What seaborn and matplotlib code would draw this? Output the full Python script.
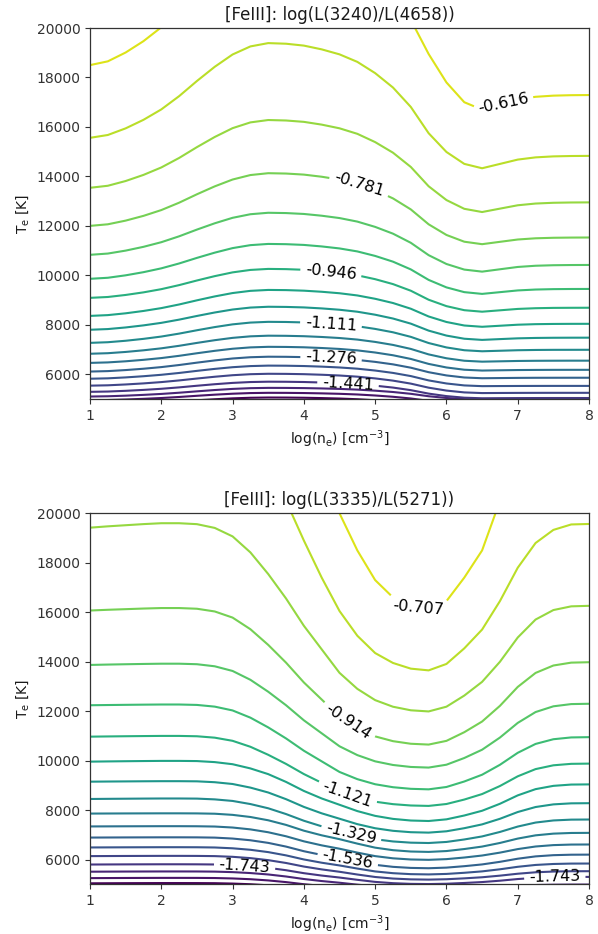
import numpy as np
import matplotlib
matplotlib.use("Agg")
import matplotlib.pyplot as plt
from matplotlib.colors import Normalize
import seaborn as sns

sns.set_style("ticks", {"axes.edgecolor": "0.2", "xtick.color": "0.2", "ytick.color": "0.2",
                        "text.color": "0.1", "axes.labelcolor": "0.1"})
plt.rcParams["font.family"] = ["DejaVu Sans"]
plt.rcParams["axes.linewidth"] = 0.9
plt.rcParams["xtick.major.size"] = 3.5
plt.rcParams["ytick.major.size"] = 3.5
plt.rcParams["xtick.major.width"] = 0.8
plt.rcParams["ytick.major.width"] = 0.8

# log(n_e) columns of the diagnostic grids
log_ne = [1.0, 1.25, 1.5, 1.75, 2.0, 2.25, 2.5, 2.75, 3.0, 3.25, 3.5, 3.75, 4.0, 4.25, 4.5,
          4.75, 5.0, 5.25, 5.5, 5.75, 6.0, 6.25, 6.5, 6.75, 7.0, 7.25, 7.5, 7.75, 8.0]

# [FeIII] log(L(3240)/L(4658)): contour levels (lowest first)
r3240_levels = [-1.606, -1.551, -1.496, -1.441, -1.386, -1.331, -1.276, -1.221, -1.166, -1.111,
                -1.056, -1.001, -0.946, -0.891, -0.836, -0.781, -0.726, -0.671, -0.616, -0.561]
# electron temperature [K] reached by each level at each log(n_e)
r3240_te = [
    [4780, 4788, 4808, 4833, 4864, 4903, 4948, 4990, 5026, 5050, 5060, 5058, 5051, 5037, 5019, 4991, 4950, 4897, 4825, 4729, 4660, 4616, 4600, 4604, 4607, 4609, 4610, 4610, 4610],
    [4950, 4959, 4980, 5007, 5040, 5082, 5130, 5175, 5214, 5240, 5250, 5248, 5241, 5228, 5210, 5183, 5142, 5090, 5021, 4926, 4859, 4816, 4800, 4804, 4807, 4809, 4810, 4810, 4810],
    [5100, 5111, 5135, 5167, 5205, 5254, 5310, 5363, 5408, 5438, 5450, 5448, 5441, 5427, 5408, 5380, 5337, 5283, 5210, 5112, 5041, 4996, 4980, 4984, 4987, 4989, 4990, 4990, 4990],
    [5290, 5302, 5331, 5368, 5413, 5470, 5536, 5598, 5651, 5686, 5700, 5697, 5687, 5667, 5640, 5600, 5539, 5462, 5358, 5218, 5117, 5053, 5030, 5034, 5037, 5039, 5040, 5040, 5040],
    [5540, 5554, 5588, 5631, 5684, 5751, 5828, 5900, 5962, 6003, 6020, 6016, 6004, 5981, 5950, 5903, 5833, 5743, 5622, 5458, 5341, 5267, 5240, 5244, 5247, 5249, 5250, 5250, 5250],
    [5820, 5836, 5873, 5921, 5979, 6053, 6138, 6218, 6286, 6331, 6350, 6346, 6333, 6309, 6275, 6226, 6151, 6055, 5927, 5752, 5628, 5549, 5520, 5524, 5527, 5529, 5530, 5530, 5530],
    [6110, 6128, 6170, 6224, 6290, 6374, 6470, 6560, 6638, 6689, 6710, 6706, 6693, 6667, 6632, 6580, 6501, 6401, 6266, 6084, 5953, 5870, 5840, 5847, 5854, 5858, 5859, 5860, 5860],
    [6460, 6480, 6525, 6584, 6655, 6746, 6850, 6948, 7032, 7087, 7110, 7105, 7091, 7062, 7024, 6966, 6880, 6769, 6620, 6419, 6275, 6184, 6150, 6161, 6171, 6176, 6179, 6180, 6180],
    [6830, 6852, 6903, 6969, 7049, 7151, 7268, 7378, 7472, 7534, 7560, 7555, 7539, 7508, 7466, 7403, 7308, 7187, 7025, 6804, 6647, 6547, 6510, 6524, 6538, 6545, 6548, 6550, 6550],
    [7270, 7296, 7355, 7432, 7525, 7644, 7780, 7908, 8018, 8090, 8120, 8114, 8096, 8061, 8013, 7942, 7834, 7698, 7513, 7263, 7085, 6972, 6930, 6951, 6972, 6983, 6988, 6989, 6990],
    [7800, 7828, 7893, 7977, 8079, 8209, 8358, 8498, 8618, 8697, 8730, 8723, 8703, 8663, 8609, 8529, 8408, 8254, 8047, 7765, 7564, 7437, 7390, 7422, 7453, 7469, 7476, 7479, 7480],
    [8360, 8392, 8465, 8560, 8675, 8822, 8990, 9148, 9284, 9373, 9410, 9403, 9380, 9336, 9276, 9187, 9052, 8881, 8650, 8337, 8114, 7972, 7920, 7962, 8004, 8026, 8035, 8039, 8040],
    [9090, 9125, 9207, 9312, 9441, 9605, 9792, 9968, 10120, 10219, 10260, 10251, 10225, 10174, 10104, 10001, 9845, 9646, 9378, 9014, 8755, 8591, 8530, 8586, 8642, 8671, 8684, 8688, 8690],
    [9860, 9902, 10001, 10128, 10283, 10480, 10706, 10918, 11101, 11221, 11270, 11260, 11230, 11169, 11088, 10967, 10785, 10553, 10240, 9816, 9513, 9321, 9250, 9320, 9390, 9426, 9442, 9448, 9450],
    [10830, 10881, 11000, 11153, 11340, 11578, 11850, 12105, 12326, 12471, 12530, 12518, 12482, 12411, 12316, 12173, 11959, 11685, 11316, 10816, 10459, 10233, 10150, 10245, 10339, 10388, 10409, 10417, 10420],
    [12000, 12064, 12213, 12405, 12639, 12937, 13278, 13598, 13874, 14055, 14130, 14116, 14073, 13987, 13872, 13700, 13441, 13111, 12666, 12064, 11633, 11360, 11260, 11355, 11449, 11498, 11519, 11527, 11530],
    [13540, 13622, 13814, 14061, 14362, 14746, 15184, 15595, 15951, 16184, 16280, 16261, 16206, 16094, 15945, 15722, 15387, 14959, 14383, 13602, 13044, 12690, 12560, 12697, 12833, 12903, 12934, 12946, 12950],
    [15560, 15675, 15943, 16288, 16709, 17245, 17858, 18433, 18930, 19256, 19390, 19365, 19289, 19137, 18935, 18631, 18176, 17594, 16809, 15747, 14988, 14507, 14330, 14505, 14680, 14770, 14810, 14825, 14830],
    [18500, 18653, 19010, 19469, 20030, 20744, 21560, 22325, 22988, 23422, 23600, 23560, 23460, 23250, 22980, 22550, 21930, 21200, 20330, 18950, 17800, 17000, 16700, 16907, 17113, 17219, 17266, 17284, 17290],
]

# [FeIII] log(L(3335)/L(5271)): contour levels (lowest first)
r3335_levels = [-1.95008, -1.88102, -1.81196, -1.74290, -1.67384, -1.60478, -1.53572, -1.46666,
                -1.39760, -1.32854, -1.25948, -1.19042, -1.12136, -1.05230, -0.98324, -0.91418,
                -0.84512, -0.77606, -0.70700, -0.63794]
r3335_te = [
    [5040, 5043, 5046, 5048, 5050, 5050, 5049, 5045, 5030, 5003, 4960, 4900, 4825, 4765, 4715, 4658, 4605, 4573, 4555, 4550, 4552, 4558, 4564, 4574, 4585, 4594, 4598, 4600, 4600],
    [5250, 5253, 5256, 5258, 5260, 5260, 5259, 5254, 5237, 5206, 5157, 5089, 5004, 4935, 4878, 4813, 4753, 4716, 4696, 4690, 4694, 4704, 4715, 4732, 4753, 4768, 4776, 4780, 4780],
    [5510, 5513, 5516, 5518, 5520, 5520, 5519, 5513, 5493, 5455, 5398, 5316, 5214, 5132, 5064, 4986, 4915, 4871, 4847, 4840, 4847, 4863, 4882, 4911, 4945, 4971, 4984, 4989, 4990],
    [5800, 5803, 5806, 5808, 5810, 5810, 5808, 5802, 5778, 5734, 5666, 5570, 5450, 5354, 5274, 5182, 5098, 5046, 5018, 5010, 5023, 5054, 5091, 5146, 5213, 5262, 5288, 5299, 5300],
    [6140, 6143, 6146, 6148, 6150, 6150, 6148, 6140, 6112, 6059, 5977, 5862, 5718, 5603, 5507, 5396, 5296, 5233, 5200, 5190, 5205, 5241, 5285, 5350, 5428, 5486, 5516, 5528, 5530],
    [6490, 6493, 6496, 6498, 6500, 6500, 6498, 6489, 6456, 6396, 6302, 6170, 6005, 5873, 5763, 5637, 5521, 5450, 5411, 5400, 5420, 5466, 5523, 5607, 5708, 5783, 5822, 5838, 5840],
    [6890, 6893, 6896, 6898, 6900, 6900, 6898, 6888, 6850, 6781, 6675, 6525, 6338, 6188, 6063, 5919, 5788, 5706, 5663, 5650, 5675, 5733, 5804, 5909, 6035, 6129, 6178, 6197, 6200],
    [7340, 7343, 7346, 7348, 7350, 7350, 7347, 7336, 7296, 7221, 7105, 6942, 6738, 6575, 6439, 6282, 6140, 6051, 6004, 5990, 6018, 6083, 6164, 6281, 6424, 6529, 6585, 6607, 6610],
    [7860, 7863, 7866, 7868, 7870, 7870, 7867, 7854, 7808, 7722, 7589, 7402, 7168, 6981, 6825, 6645, 6482, 6380, 6326, 6310, 6345, 6426, 6526, 6672, 6849, 6980, 7049, 7076, 7080],
    [8450, 8456, 8461, 8466, 8470, 8470, 8465, 8434, 8371, 8245, 8074, 7840, 7570, 7345, 7156, 6967, 6823, 6733, 6684, 6670, 6713, 6813, 6936, 7117, 7335, 7497, 7582, 7615, 7620],
    [9150, 9156, 9161, 9166, 9170, 9170, 9164, 9128, 9056, 8910, 8712, 8442, 8130, 7870, 7652, 7433, 7267, 7163, 7107, 7090, 7144, 7269, 7423, 7649, 7923, 8125, 8232, 8274, 8280],
    [9960, 9969, 9977, 9984, 9990, 9990, 9983, 9941, 9856, 9686, 9455, 9140, 8775, 8471, 8216, 7961, 7767, 7645, 7579, 7560, 7627, 7782, 7974, 8256, 8596, 8848, 8981, 9033, 9040],
    [10970, 10979, 10987, 10994, 11000, 11000, 10986, 10929, 10802, 10561, 10236, 9868, 9458, 9104, 8750, 8510, 8340, 8241, 8187, 8170, 8247, 8427, 8649, 8974, 9367, 9658, 9812, 9871, 9880],
    [12240, 12249, 12257, 12264, 12270, 12270, 12253, 12184, 12030, 11738, 11344, 10898, 10401, 9972, 9543, 9252, 9046, 8926, 8861, 8840, 8935, 9157, 9431, 9832, 10317, 10676, 10866, 10939, 10950],
    [13870, 13885, 13898, 13910, 13920, 13920, 13899, 13815, 13626, 13269, 12786, 12240, 11631, 11106, 10581, 10224, 9972, 9825, 9745, 9720, 9836, 10107, 10442, 10933, 11526, 11965, 12197, 12287, 12300],
    [16070, 16100, 16125, 16150, 16170, 16170, 16142, 16032, 15784, 15314, 14680, 13962, 13162, 12472, 11782, 11312, 10981, 10788, 10683, 10650, 10800, 11150, 11582, 12215, 12981, 13547, 13847, 13963, 13980],
    [19420, 19474, 19519, 19564, 19600, 19600, 19562, 19410, 19067, 18420, 17545, 16556, 15453, 14501, 13550, 12903, 12447, 12180, 12036, 11990, 12182, 12631, 13186, 13997, 14979, 15705, 16089, 16239, 16260],
    [24500, 24650, 24800, 24900, 25000, 25000, 24900, 24400, 23500, 22800, 21800, 20500, 18900, 17400, 16050, 15050, 14350, 13950, 13720, 13650, 13910, 14540, 15300, 16450, 17800, 18800, 19330, 19550, 19570],
    [27000, 27250, 27500, 27800, 28000, 28000, 27800, 27500, 27000, 26200, 25000, 23800, 22500, 21200, 20000, 18500, 17300, 16600, 16200, 16150, 16450, 17400, 18500, 20500, 22000, 23200, 24000, 24400, 24500],
]

panels = [
    ("[FeIII]: log(L(3240)/L(4658))", r3240_levels, r3240_te,
     [(6.8, 16900), (4.77, 13600), (4.38, 10150), (4.38, 8010), (4.38, 6580), (4.62, 5640)]),
    ("[FeIII]: log(L(3335)/L(5271))", r3335_levels, r3335_te,
     [(5.6, 16100), (4.65, 11700), (4.62, 8760), (4.67, 7110), (4.62, 6060), (3.17, 5780), (7.52, 5300)]),
]

fig = plt.figure(figsize=(5.98, 9.34), dpi=100)
axes_boxes = [[0.1505, 0.5728, 0.8345, 0.3972], [0.1505, 0.0532, 0.8345, 0.3972]]

for box, (title, levels, te_rows, label_pos) in zip(axes_boxes, panels):
    ax = fig.add_axes(box)
    ne = np.asarray(log_ne)
    te = np.asarray(te_rows, dtype=float)
    # closing row far above the plotted range so the highest drawn level is traced
    te = np.vstack([te, np.full(ne.size, 1e5)])
    X = np.tile(ne, (te.shape[0], 1))
    Z = np.repeat(np.asarray(levels)[:, None], ne.size, axis=1)

    norm = Normalize(vmin=levels[0], vmax=levels[-1])
    labelled = levels[3::3]
    plain = [lv for lv in levels if lv not in labelled]
    ax.contour(X, te, Z, levels=plain, cmap="viridis", norm=norm, linewidths=1.5)
    cs = ax.contour(X, te, Z, levels=labelled, cmap="viridis", norm=norm, linewidths=1.5)

    ax.set_xlim(1, 8)
    ax.set_ylim(5000, 20000)
    ax.set_xticks(range(1, 9))
    ax.set_yticks(range(6000, 20001, 2000))
    ax.clabel(cs, inline=True, fmt="%.3f", fontsize=11.5, colors="k", manual=label_pos)

    ax.set_title(title, fontsize=12)
    ax.set_xlabel(r"log(n$_{\rm e}$) [cm$^{-3}$]")
    ax.set_ylabel(r"T$_{\rm e}$ [K]")

fig.savefig("out.png", dpi=100)
